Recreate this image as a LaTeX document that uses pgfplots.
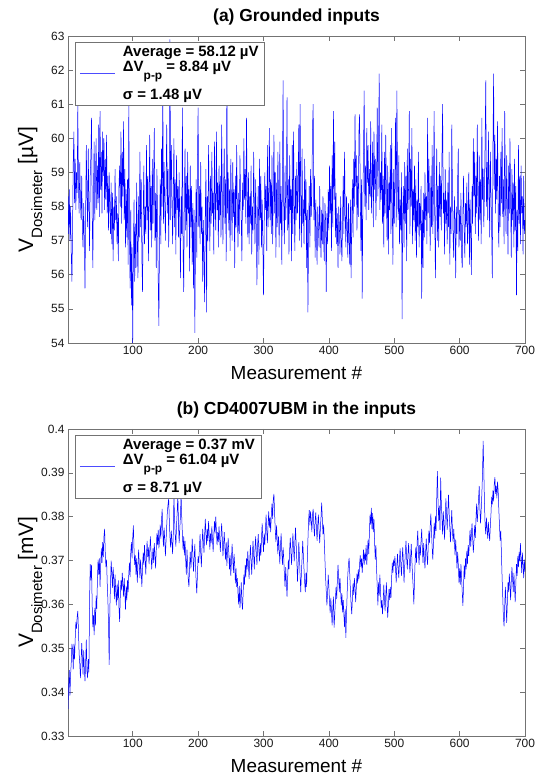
\documentclass[border=0pt]{standalone}
\usepackage{fontspec}
\setmainfont{Liberation Sans}
\usepackage{pgfplots}
\usepackage{pgfplotstable}
\pgfplotsset{compat=1.18}

% (a) grounded inputs, uV, measurements 1..700
\pgfplotstableread[row sep=\\,header=false]{
58.3\\57.2\\58.5\\57.0\\58.0\\56.6\\55.8\\57.4\\59.3\\60.2\\
58.1\\59.4\\57.9\\59.0\\58.4\\61.0\\58.6\\57.8\\59.3\\58.2\\
57.6\\58.9\\57.3\\56.8\\58.1\\57.0\\55.6\\57.9\\59.8\\58.3\\
57.4\\59.7\\58.0\\56.7\\58.9\\59.5\\60.6\\57.8\\56.2\\58.4\\
59.9\\57.6\\58.8\\60.0\\57.9\\59.2\\58.1\\60.4\\57.7\\60.8\\
58.5\\59.6\\57.8\\60.2\\58.9\\60.0\\57.9\\59.4\\58.2\\60.1\\
57.8\\58.9\\57.3\\59.0\\58.0\\57.2\\58.7\\56.9\\58.4\\56.4\\
58.0\\57.3\\59.1\\57.6\\58.3\\56.9\\57.8\\56.4\\58.6\\59.2\\
58.0\\60.2\\57.5\\59.6\\58.3\\60.5\\57.6\\59.1\\56.8\\58.5\\
57.1\\58.8\\56.3\\61.0\\57.4\\55.6\\57.9\\55.1\\56.8\\54.0\\
56.6\\58.2\\55.8\\57.5\\56.2\\58.7\\57.0\\55.9\\58.3\\57.1\\
59.6\\57.4\\58.8\\56.5\\55.5\\57.8\\59.2\\56.9\\58.0\\57.2\\
59.8\\57.6\\58.9\\56.4\\58.2\\60.1\\57.3\\58.6\\56.8\\59.4\\
57.5\\58.9\\60.3\\57.0\\58.4\\56.2\\59.1\\57.6\\55.8\\54.5\\
57.2\\58.8\\56.9\\59.7\\58.0\\61.8\\57.5\\59.3\\58.1\\57.0\\
58.7\\60.4\\57.8\\59.1\\56.8\\58.5\\62.9\\57.6\\59.8\\58.4\\
56.9\\58.2\\60.0\\57.4\\58.8\\56.6\\59.5\\57.9\\58.6\\57.1\\
59.0\\57.6\\55.9\\58.3\\57.2\\60.9\\56.7\\55.5\\58.4\\59.7\\
57.3\\58.9\\56.8\\59.6\\57.8\\58.5\\56.1\\59.2\\57.4\\58.6\\
56.3\\58.1\\55.6\\57.9\\54.3\\57.0\\58.8\\56.5\\59.4\\60.9\\
57.4\\58.6\\56.9\\59.3\\57.2\\58.0\\55.8\\57.6\\56.4\\55.2\\
57.9\\59.1\\54.9\\58.3\\57.0\\59.8\\58.2\\56.7\\58.9\\57.5\\
59.6\\57.8\\58.4\\56.6\\59.9\\58.1\\57.3\\60.2\\57.9\\58.7\\
56.8\\59.2\\57.6\\58.9\\57.1\\60.4\\58.3\\56.9\\58.6\\59.7\\
57.5\\58.8\\56.4\\61.9\\57.8\\59.0\\57.3\\58.5\\56.7\\59.4\\
58.1\\57.0\\59.3\\57.7\\58.5\\56.2\\58.9\\57.4\\59.8\\58.0\\
56.8\\58.4\\57.2\\59.5\\58.3\\57.6\\56.4\\58.7\\57.9\\60.0\\
58.2\\59.1\\57.5\\60.6\\58.4\\57.1\\59.0\\56.9\\58.3\\57.5\\
59.2\\56.6\\58.0\\57.3\\59.6\\58.1\\56.9\\58.8\\57.4\\55.7\\
57.8\\58.6\\56.3\\59.4\\57.6\\58.9\\56.8\\58.2\\57.0\\55.4\\
57.3\\59.0\\57.9\\58.6\\56.7\\59.8\\57.4\\58.3\\60.3\\57.6\\
58.8\\57.2\\59.5\\56.9\\58.4\\60.1\\57.8\\59.0\\56.5\\58.7\\
57.4\\59.6\\58.2\\56.8\\59.9\\57.5\\58.6\\56.3\\58.9\\61.7\\
58.0\\56.9\\59.2\\57.6\\58.4\\61.2\\57.3\\58.8\\56.6\\59.5\\
57.9\\58.5\\56.4\\59.8\\57.2\\60.2\\58.1\\56.7\\58.9\\57.6\\
59.3\\57.8\\58.6\\60.4\\57.0\\61.0\\58.3\\56.8\\59.7\\57.5\\
58.2\\56.9\\59.4\\57.6\\58.8\\56.2\\57.9\\54.9\\57.3\\58.6\\
56.8\\59.1\\57.7\\58.4\\60.3\\61.0\\57.6\\58.9\\56.5\\58.2\\
57.1\\56.3\\58.0\\57.4\\56.8\\58.6\\57.2\\56.5\\57.9\\56.9\\
58.3\\57.0\\56.4\\58.1\\57.6\\55.5\\57.8\\56.9\\58.5\\57.3\\
59.2\\57.8\\58.6\\56.7\\59.5\\57.4\\60.8\\58.2\\59.9\\57.1\\
58.4\\56.9\\57.8\\56.2\\58.0\\57.5\\56.6\\58.3\\57.0\\56.4\\
57.7\\58.9\\57.2\\59.6\\57.8\\56.8\\58.3\\57.4\\56.5\\58.1\\
57.0\\56.3\\58.2\\55.9\\57.5\\58.8\\57.1\\59.4\\58.0\\60.7\\
58.6\\59.5\\57.3\\58.9\\57.7\\60.2\\60.7\\58.4\\56.7\\58.8\\
55.3\\58.1\\59.6\\61.4\\58.0\\59.2\\57.6\\60.3\\58.7\\59.8\\
57.9\\59.1\\58.3\\60.5\\57.8\\58.6\\59.9\\57.4\\60.2\\58.5\\
59.4\\57.6\\58.8\\60.9\\58.3\\59.7\\61.9\\57.9\\59.0\\58.2\\
60.4\\57.5\\58.9\\56.8\\59.6\\57.8\\60.1\\58.4\\57.0\\59.2\\
56.6\\58.7\\57.9\\59.8\\57.2\\60.3\\58.0\\56.3\\59.1\\57.5\\
58.8\\60.6\\57.4\\61.4\\58.9\\57.6\\59.5\\56.9\\58.2\\57.3\\
59.0\\54.7\\57.8\\58.6\\56.8\\59.3\\57.5\\58.9\\56.4\\59.7\\
57.9\\58.6\\60.8\\57.2\\59.4\\58.0\\60.3\\56.9\\58.5\\57.6\\
59.2\\57.0\\58.8\\56.5\\58.2\\57.4\\59.6\\56.8\\58.1\\57.3\\
58.6\\55.3\\57.9\\56.2\\58.4\\57.1\\59.0\\57.6\\58.3\\56.9\\
60.6\\57.8\\59.4\\58.1\\56.7\\58.9\\57.4\\59.8\\57.2\\58.5\\
60.8\\57.6\\55.9\\58.3\\59.7\\57.0\\58.6\\56.8\\59.3\\57.7\\
58.9\\57.3\\59.5\\61.0\\57.8\\58.4\\56.6\\59.1\\57.5\\58.2\\
56.9\\58.7\\57.4\\59.6\\56.3\\58.0\\57.2\\60.4\\58.6\\57.1\\
56.5\\58.3\\57.6\\55.9\\58.0\\57.2\\58.8\\59.7\\56.8\\57.9\\
57.0\\58.4\\56.6\\56.2\\57.8\\58.9\\57.3\\56.5\\58.1\\57.4\\
58.7\\56.9\\57.6\\59.0\\56.3\\58.2\\57.1\\56.0\\58.6\\57.5\\
60.0\\58.3\\59.6\\57.2\\58.9\\57.8\\60.4\\58.1\\57.0\\59.5\\
57.6\\58.8\\56.9\\60.6\\58.2\\59.1\\57.4\\58.5\\59.9\\61.7\\
58.0\\59.3\\57.6\\60.2\\58.7\\57.1\\59.6\\58.4\\57.3\\55.9\\
59.8\\61.9\\58.5\\60.1\\57.8\\59.4\\58.2\\60.5\\57.6\\56.8\\
58.9\\57.4\\59.6\\58.1\\60.3\\57.7\\58.8\\56.9\\60.8\\58.4\\
57.2\\59.5\\58.0\\56.6\\59.2\\57.8\\60.0\\58.3\\56.5\\59.1\\
57.6\\58.7\\56.8\\59.4\\57.3\\58.6\\55.4\\57.9\\56.7\\59.8\\
57.5\\58.9\\56.9\\59.2\\57.8\\58.3\\56.6\\58.9\\57.2\\57.6\\
}\grounded

% (b) CD4007UBM in the inputs, mV, measurements 1..700
\pgfplotstableread[row sep=\\,header=false]{
0.3362\\0.3415\\0.3450\\0.3392\\0.3440\\0.3468\\0.3510\\0.3498\\0.3452\\0.3510\\
0.3475\\0.3520\\0.3560\\0.3545\\0.3572\\0.3585\\0.3540\\0.3488\\0.3465\\0.3432\\
0.3470\\0.3512\\0.3478\\0.3440\\0.3495\\0.3452\\0.3425\\0.3468\\0.3520\\0.3448\\
0.3432\\0.3475\\0.3445\\0.3610\\0.3692\\0.3655\\0.3690\\0.3598\\0.3548\\0.3575\\
0.3530\\0.3592\\0.3552\\0.3620\\0.3590\\0.3655\\0.3702\\0.3668\\0.3705\\0.3640\\
0.3690\\0.3728\\0.3695\\0.3742\\0.3708\\0.3755\\0.3772\\0.3718\\0.3685\\0.3702\\
0.3648\\0.3610\\0.3555\\0.3462\\0.3590\\0.3645\\0.3700\\0.3672\\0.3638\\0.3685\\
0.3658\\0.3612\\0.3668\\0.3630\\0.3598\\0.3645\\0.3610\\0.3655\\0.3592\\0.3560\\
0.3620\\0.3655\\0.3632\\0.3672\\0.3645\\0.3618\\0.3660\\0.3625\\0.3588\\0.3642\\
0.3610\\0.3655\\0.3628\\0.3670\\0.3695\\0.3662\\0.3718\\0.3742\\0.3705\\0.3752\\
0.3780\\0.3725\\0.3690\\0.3712\\0.3668\\0.3705\\0.3650\\0.3688\\0.3725\\0.3692\\
0.3660\\0.3702\\0.3672\\0.3640\\0.3685\\0.3718\\0.3690\\0.3735\\0.3705\\0.3668\\
0.3712\\0.3745\\0.3708\\0.3730\\0.3692\\0.3722\\0.3755\\0.3718\\0.3680\\0.3705\\
0.3728\\0.3695\\0.3740\\0.3712\\0.3682\\0.3725\\0.3762\\0.3735\\0.3770\\0.3728\\
0.3745\\0.3782\\0.3750\\0.3790\\0.3818\\0.3765\\0.3732\\0.3775\\0.3748\\0.3710\\
0.3745\\0.3780\\0.3812\\0.3828\\0.3842\\0.3790\\0.3752\\0.3730\\0.3768\\0.3742\\
0.3715\\0.3760\\0.3848\\0.3795\\0.3758\\0.3732\\0.3780\\0.3810\\0.3852\\0.3785\\
0.3740\\0.3772\\0.3802\\0.3850\\0.3798\\0.3760\\0.3725\\0.3755\\0.3712\\0.3745\\
0.3702\\0.3668\\0.3725\\0.3692\\0.3655\\0.3640\\0.3690\\0.3720\\0.3682\\0.3710\\
0.3750\\0.3712\\0.3675\\0.3705\\0.3738\\0.3690\\0.3652\\0.3625\\0.3668\\0.3710\\
0.3695\\0.3728\\0.3760\\0.3718\\0.3685\\0.3730\\0.3772\\0.3745\\0.3718\\0.3758\\
0.3795\\0.3760\\0.3735\\0.3772\\0.3745\\0.3790\\0.3758\\0.3725\\0.3762\\0.3740\\
0.3778\\0.3748\\0.3720\\0.3755\\0.3790\\0.3762\\0.3800\\0.3768\\0.3735\\0.3765\\
0.3742\\0.3778\\0.3750\\0.3720\\0.3755\\0.3785\\0.3752\\0.3710\\0.3738\\0.3765\\
0.3730\\0.3702\\0.3742\\0.3688\\0.3720\\0.3752\\0.3715\\0.3680\\0.3712\\0.3665\\
0.3700\\0.3738\\0.3705\\0.3672\\0.3715\\0.3690\\0.3648\\0.3682\\0.3640\\0.3660\\
0.3625\\0.3600\\0.3642\\0.3592\\0.3615\\0.3650\\0.3605\\0.3588\\0.3632\\0.3668\\
0.3645\\0.3690\\0.3662\\0.3705\\0.3680\\0.3722\\0.3690\\0.3658\\0.3700\\0.3735\\
0.3702\\0.3668\\0.3710\\0.3745\\0.3712\\0.3680\\0.3725\\0.3755\\0.3718\\0.3690\\
0.3735\\0.3760\\0.3722\\0.3698\\0.3740\\0.3712\\0.3752\\0.3785\\0.3748\\0.3720\\
0.3762\\0.3735\\0.3770\\0.3805\\0.3768\\0.3740\\0.3782\\0.3812\\0.3775\\0.3798\\
0.3765\\0.3805\\0.3830\\0.3795\\0.3840\\0.3852\\0.3808\\0.3770\\0.3742\\0.3780\\
0.3748\\0.3715\\0.3755\\0.3728\\0.3692\\0.3735\\0.3762\\0.3720\\0.3690\\0.3730\\
0.3705\\0.3668\\0.3640\\0.3685\\0.3650\\0.3618\\0.3660\\0.3702\\0.3680\\0.3725\\
0.3752\\0.3718\\0.3690\\0.3730\\0.3762\\0.3728\\0.3698\\0.3740\\0.3775\\0.3738\\
0.3700\\0.3652\\0.3688\\0.3742\\0.3710\\0.3665\\0.3628\\0.3672\\0.3705\\0.3745\\
0.3712\\0.3680\\0.3650\\0.3628\\0.3672\\0.3640\\0.3700\\0.3748\\0.3792\\0.3815\\
0.3780\\0.3812\\0.3792\\0.3765\\0.3805\\0.3818\\0.3778\\0.3755\\0.3790\\0.3810\\
0.3772\\0.3745\\0.3782\\0.3805\\0.3768\\0.3740\\0.3772\\0.3800\\0.3832\\0.3795\\
0.3760\\0.3782\\0.3745\\0.3702\\0.3662\\0.3630\\0.3598\\0.3625\\0.3668\\0.3642\\
0.3605\\0.3580\\0.3615\\0.3585\\0.3552\\0.3590\\0.3618\\0.3547\\0.3575\\0.3610\\
0.3640\\0.3612\\0.3655\\0.3690\\0.3662\\0.3628\\0.3660\\0.3632\\0.3598\\0.3625\\
0.3582\\0.3610\\0.3575\\0.3548\\0.3590\\0.3524\\0.3580\\0.3625\\0.3668\\0.3692\\
0.3706\\0.3668\\0.3632\\0.3600\\0.3578\\0.3615\\0.3648\\0.3622\\0.3660\\0.3640\\
0.3605\\0.3638\\0.3670\\0.3648\\0.3680\\0.3658\\0.3692\\0.3712\\0.3685\\0.3705\\
0.3672\\0.3698\\0.3725\\0.3690\\0.3718\\0.3700\\0.3735\\0.3690\\0.3722\\0.3748\\
0.3715\\0.3762\\0.3805\\0.3782\\0.3820\\0.3772\\0.3808\\0.3765\\0.3795\\0.3740\\
0.3702\\0.3735\\0.3680\\0.3640\\0.3598\\0.3650\\0.3620\\0.3668\\0.3632\\0.3592\\
0.3610\\0.3578\\0.3602\\0.3645\\0.3612\\0.3585\\0.3620\\0.3650\\0.3605\\0.3570\\
0.3598\\0.3635\\0.3610\\0.3640\\0.3615\\0.3660\\0.3695\\0.3672\\0.3702\\0.3688\\
0.3710\\0.3682\\0.3650\\0.3690\\0.3715\\0.3680\\0.3660\\0.3700\\0.3728\\0.3695\\
0.3665\\0.3702\\0.3730\\0.3692\\0.3650\\0.3688\\0.3720\\0.3745\\0.3705\\0.3680\\
0.3715\\0.3740\\0.3702\\0.3672\\0.3705\\0.3738\\0.3700\\0.3665\\0.3640\\0.3600\\
0.3655\\0.3702\\0.3730\\0.3695\\0.3742\\0.3768\\0.3720\\0.3690\\0.3735\\0.3712\\
0.3745\\0.3772\\0.3728\\0.3695\\0.3740\\0.3705\\0.3682\\0.3720\\0.3750\\0.3712\\
0.3690\\0.3735\\0.3768\\0.3740\\0.3778\\0.3807\\0.3765\\0.3730\\0.3702\\0.3740\\
0.3785\\0.3750\\0.3802\\0.3768\\0.3842\\0.3904\\0.3835\\0.3790\\0.3825\\0.3770\\
0.3889\\0.3832\\0.3795\\0.3760\\0.3812\\0.3785\\0.3748\\0.3795\\0.3842\\0.3805\\
0.3770\\0.3812\\0.3850\\0.3808\\0.3775\\0.3742\\0.3780\\0.3815\\0.3770\\0.3742\\
0.3772\\0.3745\\0.3712\\0.3748\\0.3715\\0.3682\\0.3720\\0.3690\\0.3650\\0.3682\\
0.3645\\0.3692\\0.3660\\0.3628\\0.3597\\0.3642\\0.3690\\0.3658\\0.3705\\0.3680\\
0.3722\\0.3692\\0.3735\\0.3710\\0.3745\\0.3770\\0.3732\\0.3760\\0.3785\\0.3750\\
0.3718\\0.3745\\0.3780\\0.3752\\0.3795\\0.3830\\0.3788\\0.3812\\0.3842\\0.3870\\
0.3820\\0.3785\\0.3815\\0.3852\\0.3898\\0.3973\\0.3905\\0.3832\\0.3780\\0.3760\\
0.3798\\0.3772\\0.3750\\0.3788\\0.3762\\0.3745\\0.3780\\0.3808\\0.3845\\0.3828\\
0.3860\\0.3835\\0.3875\\0.3890\\0.3852\\0.3870\\0.3842\\0.3880\\0.3858\\0.3815\\
0.3780\\0.3745\\0.3768\\0.3712\\0.3660\\0.3615\\0.3570\\0.3550\\0.3598\\0.3640\\
0.3600\\0.3558\\0.3605\\0.3650\\0.3628\\0.3670\\0.3645\\0.3610\\0.3652\\0.3685\\
0.3660\\0.3628\\0.3672\\0.3640\\0.3605\\0.3648\\0.3692\\0.3665\\0.3710\\0.3685\\
0.3720\\0.3698\\0.3740\\0.3705\\0.3672\\0.3718\\0.3690\\0.3660\\0.3702\\0.3675\\
}\cmosin

\pgfplotsset{
  meas/.style={
    scale only axis, width=457bp, height=307bp, anchor=south west,
    xmin=1, xmax=700, xtick={100,200,...,700},
    tick align=inside, xtick pos=both, ytick pos=both,
    major tick length=5bp,
    axis line style={black!55, line width=0.6bp},
    every tick/.style={black!55, line width=0.6bp},
    ticklabel style={font=\fontsize{12}{14}\selectfont, black!90},
    /pgf/number format/assume math mode=true,
    xlabel={Measurement \#},
    xlabel style={font=\fontsize{19}{22}\selectfont, at={(axis description cs:0.5,0)},
      anchor=north, inner sep=0pt, yshift=-23bp},
    ylabel style={at={(axis description cs:0,0.5)}, anchor=center, yshift=38bp},
    title style={font=\bfseries\fontsize{17.5}{20}\selectfont, at={(axis description cs:0.5,1)},
      anchor=base, inner sep=0pt, yshift=9bp},
    legend style={at={(axis description cs:0,1)}, anchor=north west, xshift=7bp, yshift=-6bp,
      draw=black!55, line width=0.6bp, fill=white,
      font=\bfseries\fontsize{15}{16}\selectfont,
      cells={anchor=west, align=left}, inner xsep=4bp, inner ysep=2bp},
    legend image code/.code={\draw[blue!70!white, line width=0.9bp] (0bp,0.3bp) -- (35bp,0.3bp); \path (41bp,0bp);},
  }
}

\begin{document}
\begin{tikzpicture}
\useasboundingbox (0,0) rectangle (540bp,775bp);

\begin{axis}[meas, at={(68bp,432bp)},
  ymin=54, ymax=63, ytick={54,55,...,63},
  title={(a) Grounded inputs},
  ylabel={\fontsize{21}{24}\selectfont V\raisebox{-9bp}{\fontsize{15}{16}\selectfont Dosimeter} [µV]}]
\addplot[blue, line width=0.5bp] table[x expr=\coordindex+1, y index=0] {\grounded};
\addlegendentry{Average = 58.12 µV\\[-1bp]ΔV\raisebox{-8bp}{\fontsize{12}{12}\selectfont p-p} = 8.84 µV\\[6bp]σ = 1.48 µV}
\end{axis}

\begin{axis}[meas, at={(68bp,39bp)},
  ymin=0.33, ymax=0.4,
  ytick={0.33,0.34,0.35,0.36,0.37,0.38,0.39,0.4},
  yticklabels={0.33,0.34,0.35,0.36,0.37,0.38,0.39,0.4},
  title={(b) CD4007UBM in the inputs},
  ylabel={\fontsize{21}{24}\selectfont V\raisebox{-9bp}{\fontsize{15}{16}\selectfont Dosimeter} [mV]}]
\addplot[blue, line width=0.5bp] table[x expr=\coordindex+1, y index=0] {\cmosin};
\addlegendentry{Average = 0.37 mV\\[-1bp]ΔV\raisebox{-8bp}{\fontsize{12}{12}\selectfont p-p} = 61.04 µV\\[6bp]σ = 8.71 µV}
\end{axis}
\end{tikzpicture}
\end{document}
